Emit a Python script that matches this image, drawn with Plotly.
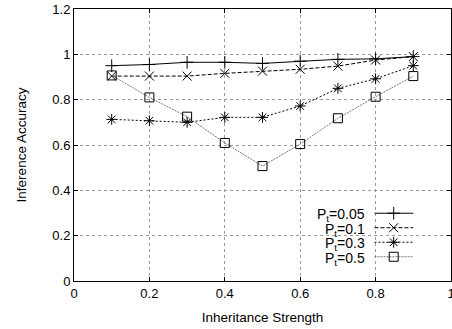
import plotly.graph_objects as go

# Inheritance strength values on the x axis
strength = [0.1, 0.2, 0.3, 0.4, 0.5, 0.6, 0.7, 0.8, 0.9]

# Inference accuracy for each P_t setting
acc_p005 = [0.95, 0.955, 0.965, 0.965, 0.96, 0.97, 0.978, 0.98, 0.99]
acc_p01 = [0.904, 0.904, 0.904, 0.916, 0.926, 0.934, 0.948, 0.975, 0.99]
acc_p03 = [0.713, 0.707, 0.70, 0.722, 0.722, 0.772, 0.85, 0.892, 0.95]
acc_p05 = [0.907, 0.81, 0.725, 0.609, 0.507, 0.604, 0.718, 0.813, 0.904]

labels = ["P<sub>t</sub>=0.05", "P<sub>t</sub>=0.1", "P<sub>t</sub>=0.3", "P<sub>t</sub>=0.5"]
x_ticks = [0, 0.2, 0.4, 0.6, 0.8, 1]
y_ticks = [0, 0.2, 0.4, 0.6, 0.8, 1, 1.2]

FONT = "Liberation Sans, Arial, sans-serif"

styles = [
    dict(color="black", dash="solid", symbol="cross-thin-open", size=9),
    dict(color="black", dash="4px,2px", symbol="x-thin-open", size=9),
    dict(color="black", dash="2px,2px", symbol="asterisk-open", size=9),
    dict(color="#777777", dash="2px,1px", symbol="square-open", size=9),
]
series = [acc_p005, acc_p01, acc_p03, acc_p05]

fig = go.Figure()
for ys, st in zip(series, styles):
    fig.add_trace(go.Scatter(
        x=strength, y=ys, mode="lines+markers",
        line=dict(color=st["color"], width=1, dash=st["dash"]),
        marker=dict(symbol=st["symbol"], size=st["size"],
                    color="black", line=dict(color="black", width=1)),
        showlegend=False,
    ))

# Key in the lower right: label text, then a line sample with its marker
for i, (lab, st) in enumerate(zip(labels, styles)):
    yk = 0.299 - 0.064 * i
    fig.add_trace(go.Scatter(
        x=[0.797, 0.848, 0.900], y=[yk, yk, yk], mode="lines",
        line=dict(color=st["color"], width=1, dash=st["dash"]),
        showlegend=False, hoverinfo="skip",
    ))
    fig.add_trace(go.Scatter(
        x=[0.848], y=[yk], mode="markers",
        marker=dict(symbol=st["symbol"], size=st["size"],
                    color="black", line=dict(color="black", width=1)),
        showlegend=False, hoverinfo="skip",
    ))
    fig.add_annotation(
        x=0.778, y=yk, xref="x", yref="y", text=lab, showarrow=False,
        xanchor="right", yanchor="middle", yshift=-2,
        font=dict(family=FONT, size=14, color="black"),
    )

axis_common = dict(
    showline=True, linecolor="black", linewidth=1, mirror="ticks",
    ticks="inside", ticklen=4, tickcolor="black",
    showgrid=True, gridcolor="#999999", griddash="dot", gridwidth=1,
    zeroline=False, ticklabeloverflow="allow", automargin=False,
    tickfont=dict(family=FONT, size=13, color="black"),
)

fig.update_xaxes(
    range=[0, 1], tickvals=x_ticks, ticktext=[f"{v:g}" for v in x_ticks],
    title=dict(text="Inheritance Strength", standoff=12,
               font=dict(family=FONT, size=13.5, color="black")),
    **axis_common,
)
fig.update_yaxes(
    range=[0, 1.2], tickvals=y_ticks, ticktext=[f"{v:g}" for v in y_ticks],
    title=dict(text="Inference Accuracy", standoff=22,
               font=dict(family=FONT, size=13.5, color="black")),
    **axis_common,
)

fig.update_layout(
    width=452, height=329,
    margin=dict(l=74, r=1, t=9, b=48),
    plot_bgcolor="white", paper_bgcolor="white",
    showlegend=False,
)

fig.write_html("out.html")
